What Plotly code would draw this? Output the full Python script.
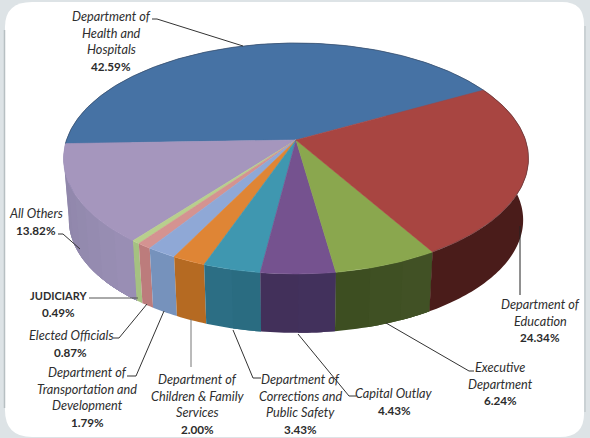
import math
import plotly.graph_objects as go

# Budget shares, counter-clockwise from the start of the largest slice
values = [42.59, 13.82, 0.49, 0.87, 1.79, 2.00, 3.43, 4.43, 6.24, 24.34]
label_lines = [
    ["Department of", "Health and", "Hospitals"],
    ["All Others"],
    ["JUDICIARY"],
    ["Elected Officials"],
    ["Department of", "Transportation and", "Development"],
    ["Department of", "Children & Family", "Services"],
    ["Department of", "Corrections and", "Public Safety"],
    ["Capital Outlay"],
    ["Executive", "Department"],
    ["Department of", "Education"],
]
label_x = [111, 36, 58.5, 70.5, 87, 197.5, 300, 394, 500, 540]
label_y = [16, 213, 295, 335, 372, 379, 379, 393, 367, 304]
top_colors = ["#4672a4", "#a596bd", "#b8cf8d", "#d49391", "#8fa8d6",
              "#df8535", "#3f97b0", "#75528f", "#8aa74e", "#a84541"]
wall_left = ["#3a5c85", "#8b83a6", "#a5c181", "#c0807e", "#7390ba",
             "#b56a22", "#2c6f85", "#41305a", "#3c4d20", "#4a1c1a"]
wall_right = ["#3a5c85", "#9a8fb5", "#a5c181", "#b9797a", "#7894be",
              "#b56a22", "#2a6b80", "#43315c", "#425226", "#4a1c1a"]
leaders = [
    ([152, 157, 243], [19, 19, 46], "#333333"),
    ([58, 63, 80], [234, 234, 249], "#333333"),
    ([89, 138], [298, 298], "#555555"),
    ([113, 119, 147], [338, 338, 304], "#333333"),
    ([127, 136, 164], [376, 376, 311], "#333333"),
    ([191, 191], [319, 367], "#777777"),
    ([233, 253, 261], [330, 378, 378], "#333333"),
    ([298, 349, 356], [334, 396, 396], "#333333"),
    ([386, 469, 474], [323, 371, 371], "#333333"),
    ([520, 520], [226, 295], "#222222"),
]

# Projection of the tilted disc
CX, CY = 296.0, 140.0
RX, RY = 229.5, 112.5
PERSPECTIVE = 0.16
START_DEG = 28.5
DROP = 62.0
BOTTOM_SCALE = 0.977
LINE_STEP = 16.7


def top_point(deg):
    a = math.radians(deg)
    depth = 1 + PERSPECTIVE * math.sin(a)
    return CX + RX * math.cos(a) / depth, CY - RY * math.sin(a) / depth


def bottom_point(deg):
    x, y = top_point(deg)
    return CX + BOTTOM_SCALE * (x - CX), CY + DROP + BOTTOM_SCALE * (y - CY)


def mix(c1, c2, t):
    a = [int(c1[i:i + 2], 16) for i in (1, 3, 5)]
    b = [int(c2[i:i + 2], 16) for i in (1, 3, 5)]
    return "#" + "".join(f"{round(p + (q - p) * t):02x}" for p, q in zip(a, b))


def arc(a0, a1, fn):
    n = max(2, int(abs(a1 - a0)) + 2)
    return [fn(a0 + (a1 - a0) * i / (n - 1)) for i in range(n)]


fig = go.Figure()

# Slice angles
edges = [START_DEG]
for v in values:
    edges.append(edges[-1] + v * 3.6)

# Side wall, drawn first so the top face hides the rear portion.
# Each shading band runs to the end of its slice, so later bands
# paint over the joins and no seams show.
for i in range(len(values)):
    a0, a1 = edges[i], edges[i + 1]
    bands = max(1, int((a1 - a0) / 6)) if wall_left[i] != wall_right[i] else 1
    for b in range(bands):
        s0 = a0 + (a1 - a0) * b / bands
        outline = arc(s0, a1, top_point) + arc(a1, s0, bottom_point)
        outline.append(outline[0])
        color = mix(wall_left[i], wall_right[i], (b + 0.5) / bands)
        fig.add_trace(go.Scatter(
            x=[p[0] for p in outline], y=[p[1] for p in outline],
            mode="none", fill="toself", fillcolor=color, hoverinfo="skip",
        ))

# Top face
for i in range(len(values)):
    outline = [(CX, CY)] + arc(edges[i], edges[i + 1], top_point) + [(CX, CY)]
    fig.add_trace(go.Scatter(
        x=[p[0] for p in outline], y=[p[1] for p in outline],
        mode="lines", fill="toself", fillcolor=top_colors[i],
        line=dict(color=top_colors[i], width=0.6), hoverinfo="skip",
    ))

# Faint rim along the far edge of the disc
for i in (0, len(values) - 1):
    rim = arc(edges[i], edges[i + 1], top_point)
    fig.add_trace(go.Scatter(
        x=[p[0] for p in rim], y=[p[1] for p in rim], mode="lines",
        line=dict(color="rgba(50,50,60,0.45)", width=0.8), hoverinfo="skip",
    ))

# Leader lines
for lx, ly, color in leaders:
    fig.add_trace(go.Scatter(x=lx, y=ly, mode="lines",
                             line=dict(color=color, width=1), hoverinfo="skip"))

# Labels, one annotation per line for an even line pitch
annotations = []
for i, lines in enumerate(label_lines):
    for j, line in enumerate(lines):
        upright = line == "JUDICIARY"
        annotations.append(dict(
            x=label_x[i], y=label_y[i] + j * LINE_STEP,
            text=f"<b>{line}</b>" if upright else f"<i>{line}</i>",
            showarrow=False, xanchor="center", yanchor="middle",
            font=dict(family="Lato", size=11 if upright else 12.7, color="#2e2e2e"),
        ))
    annotations.append(dict(
        x=label_x[i], y=label_y[i] + len(lines) * LINE_STEP,
        text=f"<b>{values[i]:.2f}%</b>", showarrow=False,
        xanchor="center", yanchor="middle",
        font=dict(family="Lato", size=11.7, color="#2b2b2b"),
    ))

# Rounded white panel on a grey-blue ground, with darker side edges
panel = ("M 5 27 Q 5 2 32 2 L 562 2 Q 584 2 584 24 L 584 414 "
         "Q 584 437 560 437 L 32 437 Q 5 437 5 410 Z")
shapes = [
    dict(type="path", path=panel, xref="x", yref="y", layer="below",
         fillcolor="#ffffff", line=dict(width=0)),
    dict(type="line", x0=4.5, x1=4.5, y0=30, y1=408, xref="x", yref="y",
         layer="below", line=dict(color="#b7bfc2", width=1.5)),
    dict(type="line", x0=585, x1=585, y0=26, y1=412, xref="x", yref="y",
         layer="below", line=dict(color="#c3cbce", width=1.5)),
]

fig.update_layout(
    width=590, height=438, margin=dict(l=0, r=0, t=0, b=0),
    paper_bgcolor="#dde3e6", plot_bgcolor="rgba(0,0,0,0)",
    showlegend=False, annotations=annotations, shapes=shapes,
    xaxis=dict(range=[0, 590], visible=False, fixedrange=True),
    yaxis=dict(range=[438, 0], visible=False, fixedrange=True),
)
fig.write_html("out.html", config=dict(displayModeBar=False))
